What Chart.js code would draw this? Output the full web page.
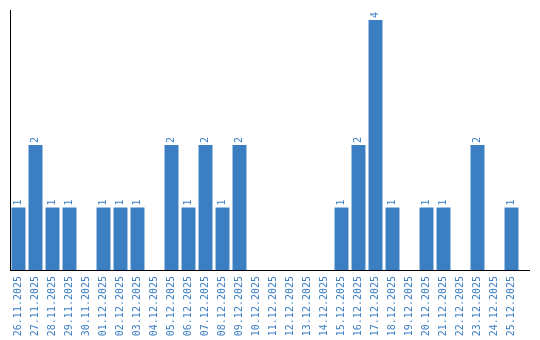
<!DOCTYPE html>
<html>
<head>
<meta charset="utf-8">
<script src="https://cdn.jsdelivr.net/npm/chart.js@4.4.1/dist/chart.umd.min.js"></script>
<style>
  html, body { margin: 0; padding: 0; background: #fff; }
  #wrap { width: 540px; height: 340px; }
</style>
</head>
<body>
<div id="wrap"><canvas id="myBarChart" width="540" height="340"></canvas></div>
<script>
const dias = [
  '26.11.2025','27.11.2025','28.11.2025','29.11.2025','30.11.2025',
  '01.12.2025','02.12.2025','03.12.2025','04.12.2025','05.12.2025',
  '06.12.2025','07.12.2025','08.12.2025','09.12.2025','10.12.2025',
  '11.12.2025','12.12.2025','13.12.2025','14.12.2025','15.12.2025',
  '16.12.2025','17.12.2025','18.12.2025','19.12.2025','20.12.2025',
  '21.12.2025','22.12.2025','23.12.2025','24.12.2025','25.12.2025'
];
const valores = [1,2,1,1,0, 1,1,1,0,2, 1,2,1,2,0, 0,0,0,0,1, 2,4,1,0,1, 1,0,2,0,1];

const azul = 'rgb(59, 126, 194)';
const fuente = '"DejaVu Sans Mono", "Liberation Mono", monospace';

// numero encima de cada barra, girado
const etiquetas = {
  id: 'etiquetas',
  afterDatasetsDraw(chart) {
    const ctx = chart.ctx;
    const meta = chart.getDatasetMeta(0);
    ctx.save();
    ctx.fillStyle = azul;
    ctx.font = '10px ' + fuente;
    ctx.textAlign = 'left';
    ctx.textBaseline = 'middle';
    meta.data.forEach((bar, i) => {
      if (!valores[i]) return;
      ctx.save();
      ctx.translate(bar.x, bar.y - 2);
      ctx.rotate(-Math.PI / 2);
      ctx.fillText(String(valores[i]), 0, 0);
      ctx.restore();
    });
    ctx.restore();
  }
};

// el eje x sigue un poco mas a la derecha
const ejeExtra = {
  id: 'ejeExtra',
  afterDraw(chart) {
    const a = chart.chartArea, ctx = chart.ctx;
    ctx.save();
    ctx.strokeStyle = '#000';
    ctx.lineWidth = 1;
    ctx.beginPath();
    ctx.moveTo(a.right, a.bottom + 0.5);
    ctx.lineTo(a.right + 10, a.bottom + 0.5);
    ctx.stroke();
    ctx.restore();
  }
};

const barra = document.getElementById('myBarChart').getContext('2d');
const graficaBar = new Chart(barra, {
  type: 'bar',
  data: {
    labels: dias,
    datasets: [{
      data: valores,
      backgroundColor: azul,
      borderWidth: 0,
      categoryPercentage: 1,
      barPercentage: 0.82
    }]
  },
  options: {
    responsive: false,
    animation: false,
    layout: { padding: { left: 0, top: 10, right: 20, bottom: 0 } },
    plugins: { legend: { display: false }, tooltip: { enabled: false } },
    scales: {
      x: {
        grid: { display: false, drawTicks: false },
        border: { color: '#000', width: 1 },
        ticks: {
          color: azul,
          font: { family: fuente, size: 10 },
          minRotation: 90,
          maxRotation: 90,
          autoSkip: false,
          padding: 6
        },
        afterFit(scale) { scale.height = 70; }
      },
      y: {
        min: 0,
        max: 4.16,
        grid: { display: false, drawTicks: false },
        border: { color: '#000', width: 1 },
        ticks: { display: false },
        afterFit(scale) { scale.width = 10; }
      }
    }
  },
  plugins: [etiquetas, ejeExtra]
});
</script>
</body>
</html>
